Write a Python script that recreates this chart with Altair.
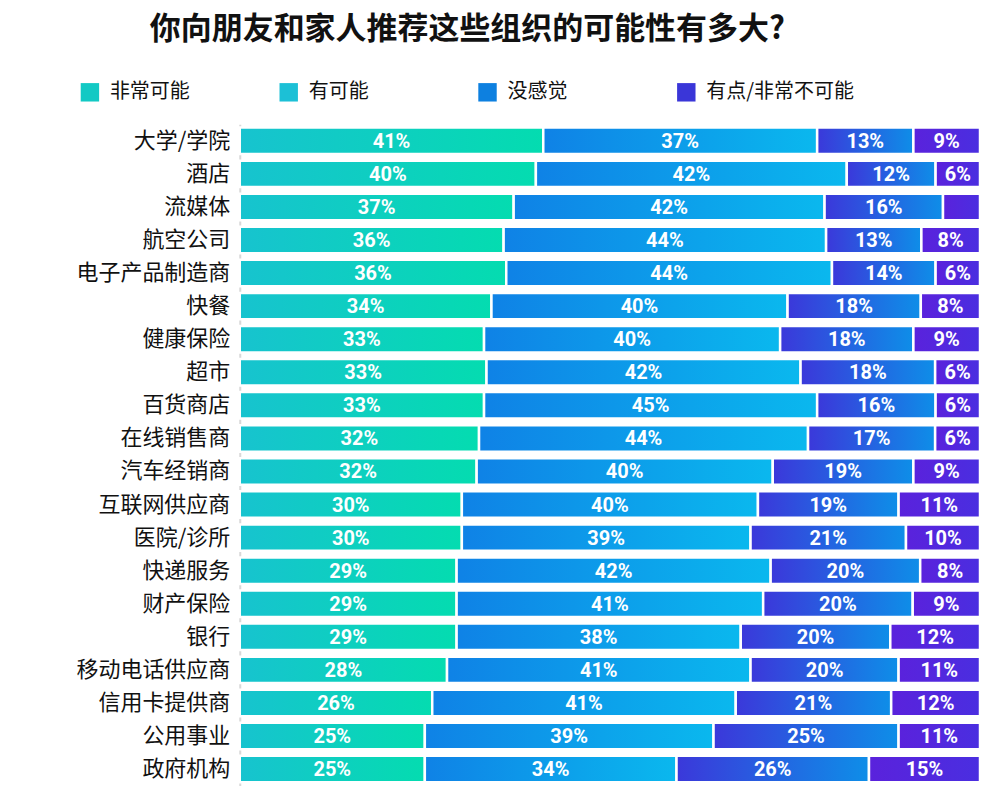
import altair as alt
import pandas as pd

orgs = ["大学/学院", "酒店", "流媒体", "航空公司", "电子产品制造商", "快餐", "健康保险", "超市",
        "百货商店", "在线销售商", "汽车经销商", "互联网供应商", "医院/诊所", "快递服务", "财产保险",
        "银行", "移动电话供应商", "信用卡提供商", "公用事业", "政府机构"]
very_likely = [41, 40, 37, 36, 36, 34, 33, 33, 33, 32, 32, 30, 30, 29, 29, 29, 28, 26, 25, 25]
likely = [37, 42, 42, 44, 44, 40, 40, 42, 45, 44, 40, 40, 39, 42, 41, 38, 41, 41, 39, 34]
neutral = [13, 12, 16, 13, 14, 18, 18, 18, 16, 17, 19, 19, 21, 20, 20, 20, 20, 21, 25, 26]
unlikely = [9, 6, 5, 8, 6, 8, 9, 6, 6, 6, 9, 11, 10, 8, 9, 12, 11, 12, 11, 15]
categories = ["非常可能", "有可能", "没感觉", "有点/非常不可能"]
legend_colors = ["#12c9c4", "#1cc0d6", "#0d80e0", "#3a36d8"]
gradients = [("#17c3cf", "#04dcb0"), ("#0f82e6", "#0ab8ee"),
             ("#3b38da", "#0e8ee8"), ("#5a22dc", "#4a2ee0")]

series = [very_likely, likely, neutral, unlikely]
rows = []
for i, org in enumerate(orgs):
    for k, cat in enumerate(categories):
        v = series[k][i]
        rows.append({"org": org, "cat": cat, "order": k, "value": v,
                     "label": f"{v}%" if v >= 6 else ""})
df = pd.DataFrame(rows)

FONT_CN = "Noto Sans CJK SC"

base = alt.Chart(df).transform_stack(
    stack="value", groupby=["org"], as_=["x0", "x1"],
    sort=[alt.SortField("order", order="ascending")], offset="normalize"
).transform_calculate(mid="(datum.x0 + datum.x1) / 2")

yenc = alt.Y("org:N", sort=orgs, title=None,
             scale=alt.Scale(paddingInner=0.2, paddingOuter=0.1),
             axis=alt.Axis(labelFont=FONT_CN, labelFontSize=22, labelColor="#111",
                           labelPadding=10, ticks=False, domain=True,
                           domainColor="#d8d8d8", domainWidth=2))
xscale = alt.Scale(domain=[0, 1], nice=False, zero=True)

layers = []
for k, cat in enumerate(categories):
    c0, c1 = gradients[k]
    grad = alt.Gradient(gradient="linear",
                        stops=[alt.GradientStop(color=c0, offset=0),
                               alt.GradientStop(color=c1, offset=1)],
                        x1=0, x2=1, y1=0, y2=0)
    layers.append(
        base.transform_filter(alt.datum.cat == cat).mark_bar(
            color=grad, stroke="white", strokeWidth=2.5
        ).encode(
            x=alt.X("x0:Q", scale=xscale, axis=None),
            x2="x1:Q",
            y=yenc,
        )
    )

legend_layer = base.mark_square(opacity=0, filled=True).encode(
    x=alt.X("mid:Q", scale=xscale, axis=None),
    y=yenc,
    color=alt.Color("cat:N", sort=categories,
                    scale=alt.Scale(domain=categories, range=legend_colors),
                    legend=alt.Legend(title=None, orient="none", direction="horizontal",
                                      columns=4, gridAlign="all", columnPadding=21,
                                      symbolType="square", symbolSize=340,
                                      symbolOpacity=1, symbolStrokeWidth=0,
                                      labelFont=FONT_CN, labelFontSize=20,
                                      labelColor="#111", labelOffset=10,
                                      legendX=-160, legendY=-42,
                                      )),
)

labels = base.mark_text(color="white", font="Roboto", fontSize=20,
                        fontWeight="bold", baseline="middle", dy=1).encode(
    x=alt.X("mid:Q", scale=xscale, axis=None),
    y=yenc,
    text="label:N",
)

chart = alt.layer(*layers, legend_layer, labels).properties(
    width=741, height=662,
    title=alt.TitleParams("你向朋友和家人推荐这些组织的可能性有多大?", font=FONT_CN,
                          fontSize=31, fontWeight="bold", color="#111",
                          anchor="start", frame="group", dx=-90, offset=36),
    padding={"left": 67, "top": 6, "right": 10, "bottom": 5},
).configure_view(stroke=None)

chart.save("out.html", embed_options={"renderer": "svg", "actions": False})
